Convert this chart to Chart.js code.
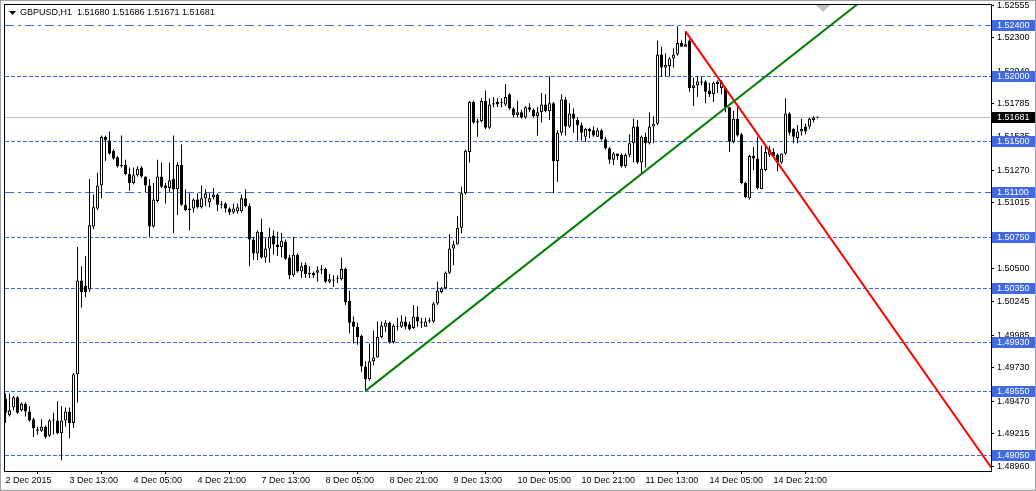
<!DOCTYPE html>
<html>
<head>
<meta charset="utf-8">
<title>GBPUSD,H1</title>
<script src="https://cdn.jsdelivr.net/npm/chart.js@4.4.0/dist/chart.umd.min.js"></script>
<style>
  html, body { margin: 0; padding: 0; background: #fff; }
  canvas { display: block; }
</style>
</head>
<body>
<canvas id="chart" width="1036" height="491"></canvas>
<script>
// symbol / timeframe shown at the top left
const symbol = "GBPUSD";
const timeframe = "H1";

// H1 candles, one per bar (bar 0 = 2 Dec 2015 21:00)
const opens = [
  1.4949,1.4936,1.4942,1.4950,1.4940,1.4945,1.4939,1.4933,1.4925,1.4924,
  1.4927,1.4920,1.4932,1.4932,1.4922,1.4932,1.4939,1.4930,1.4968,1.5041,
  1.5037,1.5034,1.5083,1.5097,1.5115,1.5153,1.5150,1.5142,1.5137,1.5130,
  1.5131,1.5124,1.5117,1.5123,1.5129,1.5122,1.5115,1.5083,1.5103,1.5122,
  1.5115,1.5113,1.5120,1.5112,1.5131,1.5100,1.5097,1.5097,1.5104,1.5098,
  1.5105,1.5102,1.5106,1.5108,1.5100,1.5101,1.5097,1.5094,1.5095,1.5095,
  1.5105,1.5099,1.5073,1.5062,1.5079,1.5059,1.5066,1.5076,1.5069,1.5067,
  1.5071,1.5059,1.5045,1.5061,1.5048,1.5053,1.5046,1.5047,1.5047,1.5049,
  1.5050,1.5040,1.5041,1.5042,1.5042,1.5050,1.5025,1.5009,1.5005,1.4998,
  1.4974,1.4964,1.4978,1.4981,1.4997,1.5005,1.5008,1.4993,1.5005,1.5005,
  1.5009,1.5007,1.5004,1.5013,1.5008,1.5005,1.5009,1.5009,1.5023,1.5032,
  1.5035,1.5047,1.5066,1.5069,1.5082,1.5109,1.5141,1.5180,1.5165,1.5165,
  1.5181,1.5160,1.5178,1.5180,1.5179,1.5178,1.5186,1.5175,1.5170,1.5172,
  1.5168,1.5176,1.5174,1.5169,1.5172,1.5178,1.5173,1.5179,1.5134,1.5156,
  1.5182,1.5161,1.5171,1.5166,1.5162,1.5153,1.5159,1.5158,1.5153,1.5158,
  1.5151,1.5144,1.5135,1.5140,1.5139,1.5130,1.5139,1.5148,1.5161,1.5133,
  1.5153,1.5148,1.5161,1.5163,1.5217,1.5207,1.5208,1.5214,1.5217,1.5226,
  1.5223,1.5228,1.5191,1.5193,1.5195,1.5196,1.5189,1.5186,1.5196,1.5191,
  1.5191,1.5176,1.5149,1.5167,1.5155,1.5117,1.5105,1.5138,1.5136,1.5112,
  1.5127,1.5139,1.5141,1.5139,1.5133,1.5140,1.5171,1.5159,1.5152,1.5157,
  1.5161,1.5161,1.5166,1.51680
];
const highs = [
  1.4953,1.4953,1.4951,1.4951,1.4946,1.4946,1.4943,1.4934,1.4927,1.4933,
  1.4928,1.4933,1.4938,1.4947,1.4943,1.4942,1.4942,1.4969,1.5067,1.5052,
  1.5060,1.5120,1.5108,1.5125,1.5154,1.5154,1.5157,1.5143,1.5138,1.5154,
  1.5135,1.5129,1.5129,1.5130,1.5130,1.5122,1.5120,1.5117,1.5135,1.5133,
  1.5117,1.5133,1.5154,1.5133,1.5147,1.5112,1.5109,1.5105,1.5109,1.5115,
  1.5112,1.5109,1.5113,1.5109,1.5103,1.5102,1.5098,1.5101,1.5101,1.5108,
  1.5112,1.5101,1.5075,1.5080,1.5089,1.5074,1.5082,1.5080,1.5079,1.5078,
  1.5073,1.5061,1.5075,1.5062,1.5055,1.5055,1.5052,1.5048,1.5052,1.5053,
  1.5051,1.5046,1.5045,1.5045,1.5059,1.5051,1.5033,1.5013,1.5008,1.4999,
  1.4978,1.4992,1.5002,1.5009,1.5009,1.5010,1.5009,1.5007,1.5012,1.5014,
  1.5013,1.5009,1.5022,1.5021,1.5012,1.5012,1.5012,1.5024,1.5040,1.5036,
  1.5048,1.5077,1.5072,1.5091,1.5114,1.5143,1.5181,1.5181,1.5167,1.5183,
  1.5189,1.5183,1.5184,1.5183,1.5183,1.5194,1.5187,1.5176,1.5181,1.5174,
  1.5177,1.5179,1.5175,1.5176,1.5187,1.5186,1.5200,1.5180,1.5158,1.5186,
  1.5184,1.5179,1.5175,1.5168,1.5164,1.5160,1.5160,1.5161,1.5160,1.5159,
  1.5153,1.5145,1.5141,1.5140,1.5140,1.5140,1.5155,1.5167,1.5166,1.5154,
  1.5156,1.5172,1.5169,1.5228,1.5223,1.5218,1.5215,1.5222,1.5239,1.5228,
  1.5235,1.5229,1.5199,1.5200,1.5200,1.5197,1.5195,1.5196,1.5197,1.5197,
  1.5192,1.5176,1.5173,1.5176,1.5156,1.5118,1.5139,1.5145,1.5153,1.5146,
  1.5147,1.5146,1.5144,1.5140,1.5140,1.5183,1.5172,1.5160,1.5162,1.5167,
  1.5163,1.5168,1.5169,1.51686
];
const lows = [
  1.4930,1.4935,1.4940,1.4937,1.4939,1.4935,1.4931,1.4919,1.4921,1.4923,
  1.4918,1.4919,1.4921,1.4921,1.4901,1.4927,1.4918,1.4926,1.4946,1.5020,
  1.5028,1.5032,1.5081,1.5096,1.5105,1.5134,1.5139,1.5135,1.5129,1.5129,
  1.5123,1.5111,1.5116,1.5122,1.5121,1.5110,1.5075,1.5082,1.5102,1.5113,
  1.5101,1.5110,1.5078,1.5092,1.5099,1.5095,1.5080,1.5094,1.5097,1.5097,
  1.5099,1.5098,1.5104,1.5095,1.5097,1.5094,1.5092,1.5093,1.5093,1.5094,
  1.5098,1.5052,1.5057,1.5057,1.5058,1.5055,1.5055,1.5061,1.5060,1.5059,
  1.5057,1.5042,1.5044,1.5047,1.5043,1.5043,1.5043,1.5043,1.5040,1.5046,
  1.5039,1.5039,1.5036,1.5039,1.5041,1.5022,1.5000,1.4992,1.4991,1.4970,
  1.4955,1.4963,1.4975,1.4981,1.4996,1.5001,1.4992,1.4992,1.5002,1.5004,
  1.5003,1.5002,1.5003,1.5005,1.5004,1.5005,1.5008,1.5008,1.5022,1.5031,
  1.5034,1.5046,1.5053,1.5069,1.5078,1.5108,1.5133,1.5163,1.5153,1.5164,
  1.5159,1.5159,1.5176,1.5176,1.5176,1.5177,1.5174,1.5168,1.5168,1.5167,
  1.5167,1.5172,1.5168,1.5154,1.5164,1.5172,1.5166,1.5109,1.5118,1.5154,
  1.5154,1.5160,1.5156,1.5150,1.5150,1.5149,1.5152,1.5153,1.5153,1.5150,
  1.5143,1.5132,1.5131,1.5135,1.5129,1.5129,1.5137,1.5133,1.5132,1.5124,
  1.5129,1.5147,1.5148,1.5162,1.5200,1.5200,1.5200,1.5207,1.5216,1.5223,
  1.5223,1.5188,1.5177,1.5184,1.5193,1.5179,1.5184,1.5180,1.5187,1.5186,
  1.5172,1.5141,1.5148,1.5153,1.5116,1.5105,1.5104,1.5127,1.5112,1.5112,
  1.5126,1.5137,1.5137,1.5126,1.5132,1.5139,1.5154,1.5148,1.5148,1.5154,
  1.5155,1.5159,1.5164,1.51671
];
const closes = [
  1.4938,1.4940,1.4950,1.4938,1.4945,1.4939,1.4932,1.4926,1.4924,1.4927,
  1.4919,1.4932,1.4932,1.4922,1.4932,1.4939,1.4930,1.4968,1.5041,1.5032,
  1.5032,1.5084,1.5098,1.5115,1.5153,1.5150,1.5140,1.5136,1.5130,1.5131,
  1.5124,1.5117,1.5123,1.5128,1.5122,1.5115,1.5083,1.5104,1.5122,1.5114,
  1.5113,1.5119,1.5112,1.5131,1.5100,1.5096,1.5096,1.5104,1.5098,1.5105,
  1.5109,1.5105,1.5108,1.5100,1.5100,1.5097,1.5094,1.5097,1.5098,1.5105,
  1.5099,1.5073,1.5062,1.5079,1.5059,1.5066,1.5075,1.5069,1.5067,1.5072,
  1.5058,1.5045,1.5061,1.5048,1.5052,1.5046,1.5046,1.5045,1.5049,1.5049,
  1.5040,1.5042,1.5041,1.5042,1.5050,1.5024,1.5008,1.5005,1.4997,1.4974,
  1.4964,1.4978,1.4981,1.4997,1.5006,1.5008,1.4993,1.5006,1.5005,1.5009,
  1.5005,1.5003,1.5013,1.5009,1.5009,1.5009,1.5010,1.5023,1.5033,1.5035,
  1.5047,1.5066,1.5069,1.5082,1.5109,1.5142,1.5180,1.5164,1.5164,1.5181,
  1.5160,1.5178,1.5179,1.5178,1.5179,1.5184,1.5175,1.5170,1.5172,1.5168,
  1.5176,1.5174,1.5169,1.5172,1.5178,1.5173,1.5179,1.5134,1.5156,1.5182,
  1.5161,1.5171,1.5167,1.5162,1.5156,1.5159,1.5157,1.5154,1.5158,1.5151,
  1.5144,1.5135,1.5140,1.5138,1.5130,1.5139,1.5148,1.5161,1.5133,1.5153,
  1.5148,1.5161,1.5163,1.5217,1.5207,1.5209,1.5214,1.5217,1.5226,1.5223,
  1.5225,1.5191,1.5193,1.5196,1.5196,1.5188,1.5186,1.5195,1.5194,1.5196,
  1.5176,1.5149,1.5167,1.5154,1.5117,1.5106,1.5138,1.5136,1.5113,1.5128,
  1.5141,1.5143,1.5138,1.5133,1.5140,1.5171,1.5156,1.5153,1.5157,1.5159,
  1.5157,1.5167,1.5168,1.51681
];

// time axis: a label every 16 bars
const timeTickBars = [0, 16, 32, 48, 64, 80, 96, 112, 128, 144, 160, 176, 192];
const timeLabels = ["2 Dec 2015", "3 Dec 13:00", "4 Dec 05:00", "4 Dec 21:00", "7 Dec 13:00",
  "8 Dec 05:00", "8 Dec 21:00", "9 Dec 13:00", "10 Dec 05:00", "10 Dec 21:00",
  "11 Dec 13:00", "14 Dec 05:00", "14 Dec 21:00"];

// price scale labels
const priceTicks = [1.52555, 1.52300, 1.52040, 1.51785, 1.51535, 1.51270, 1.51015, 1.50755,
  1.50500, 1.50245, 1.49985, 1.49730, 1.49470, 1.49215, 1.48960];

// horizontal lines drawn on the chart
const levelPrices = [1.52400, 1.52000, 1.51500, 1.51100, 1.50750, 1.50350, 1.49930, 1.49550, 1.49050];
const levelStyles = ["dashdot", "dot", "dot", "dashdot", "dot", "dot", "dot", "dot", "dot"];

// trend lines (two anchors each, extended to the right as rays)
const upTrendBars = [90, 159];
const upTrendPrices = [1.4955, 1.5124];
const downTrendBars = [170, 188];
const downTrendPrices = [1.5235, 1.5155];

const BLUE = "#4169e1";
const FONT = "'Liberation Sans', Arial, sans-serif";
const xMin = -0.125, xMax = 246.375;
const yMin = 1.48926, yMax = 1.52556;

function ray(bars, prices) {
  const slope = (prices[1] - prices[0]) / (bars[1] - bars[0]);
  return [
    { x: bars[0], y: prices[0] },
    { x: xMax, y: prices[0] + slope * (xMax - bars[0]) },
  ];
}

// garis level + garis harga bid (di bawah candle)
const levelsPlugin = {
  id: "levels",
  beforeDatasetsDraw(chart) {
    const { ctx, chartArea: a, scales } = chart;
    ctx.save();
    ctx.beginPath();
    ctx.rect(a.left, a.top, a.right - a.left, a.bottom - a.top);
    ctx.clip();
    ctx.lineWidth = 1;

    // bid line
    const by = Math.round(scales.y.getPixelForValue(closes[closes.length - 1])) + 0.5;
    ctx.strokeStyle = "#c0c0c0";
    ctx.setLineDash([]);
    ctx.beginPath();
    ctx.moveTo(a.left, by);
    ctx.lineTo(a.right, by);
    ctx.stroke();

    ctx.strokeStyle = BLUE;
    levelPrices.forEach((p, i) => {
      const y = Math.round(scales.y.getPixelForValue(p)) + 0.5;
      ctx.setLineDash(levelStyles[i] === "dashdot" ? [9, 4, 3, 4] : [4, 2]);
      ctx.beginPath();
      ctx.moveTo(a.left, y);
      ctx.lineTo(a.right, y);
      ctx.stroke();
    });
    ctx.restore();
  },
  afterDraw(chart) {
    const { ctx, chartArea: a, scales } = chart;
    const W = chart.width, H = chart.height;
    ctx.save();

    // frame
    ctx.strokeStyle = "#000";
    ctx.lineWidth = 1;
    ctx.setLineDash([]);
    ctx.strokeRect(a.left - 0.5, a.top - 0.5, a.right - a.left + 1, a.bottom - a.top + 1);

    // outer window border
    ctx.strokeStyle = "#a0a0a0";
    ctx.strokeRect(0.5, 0.5, W - 1, H - 1);
    ctx.fillStyle = "#f0f0f0";
    ctx.fillRect(1, H - 3, W - 2, 2);

    // label level di skala harga
    ctx.font = "9px " + FONT;
    ctx.textBaseline = "middle";
    ctx.textAlign = "left";
    levelPrices.forEach((p) => {
      const y = Math.round(scales.y.getPixelForValue(p));
      ctx.fillStyle = BLUE;
      ctx.fillRect(a.right + 1, y - 5, 43, 11);
      ctx.fillStyle = "#fff";
      ctx.fillText(p.toFixed(5), a.right + 6, y + 0.5);
    });

    // current price label
    const last = closes[closes.length - 1];
    const cy = Math.round(scales.y.getPixelForValue(last));
    ctx.fillStyle = "#000";
    ctx.fillRect(a.right + 1, cy - 5, 43, 11);
    ctx.fillStyle = "#fff";
    ctx.fillText(last.toFixed(5), a.right + 6, cy + 0.5);

    // chart shift marker
    ctx.fillStyle = "#c0c0c0";
    ctx.beginPath();
    ctx.moveTo(816, a.top);
    ctx.lineTo(830, a.top);
    ctx.lineTo(823, a.top + 7);
    ctx.closePath();
    ctx.fill();

    // judul kiri atas
    const n = closes.length - 1;
    ctx.fillStyle = "#000";
    ctx.beginPath();
    ctx.moveTo(9, 11);
    ctx.lineTo(16, 11);
    ctx.lineTo(12.5, 15);
    ctx.closePath();
    ctx.fill();
    const title = symbol + "," + timeframe + "  " +
      [opens[n], highs[n], lows[n], closes[n]].map((v) => v.toFixed(5)).join(" ");
    ctx.fillText(title, 20, 13);
    ctx.restore();
  },
  beforeDraw(chart) {
    const { ctx } = chart;
    ctx.save();
    ctx.fillStyle = "#fff";
    ctx.fillRect(0, 0, chart.width, chart.height);
    ctx.restore();
  },
};

const bodyData = opens.map((o, i) => ({ x: i, y: [o, closes[i]] }));
const wickData = lows.map((l, i) => ({ x: i, y: [l, highs[i]] }));

new Chart(document.getElementById("chart"), {
  type: "bar",
  data: {
    datasets: [
      {
        type: "line",
        data: ray(upTrendBars, upTrendPrices),
        borderColor: "#008000",
        borderWidth: 2,
        pointRadius: 0,
        fill: false,
        order: 0,
      },
      {
        type: "line",
        data: ray(downTrendBars, downTrendPrices),
        borderColor: "#ff0000",
        borderWidth: 2,
        pointRadius: 0,
        fill: false,
        order: 0,
      },
      {
        data: bodyData,
        backgroundColor: opens.map((o, i) => (closes[i] > o ? "#ffffff" : "#000000")),
        borderColor: "#000",
        borderWidth: 1,
        borderSkipped: false,
        barThickness: 3,
        minBarLength: 1,
        inflateAmount: 0,
        grouped: false,
        order: 1,
      },
      {
        data: wickData,
        backgroundColor: "#000",
        borderWidth: 0,
        barThickness: 1,
        inflateAmount: 0,
        grouped: false,
        order: 2,
      },
    ],
  },
  options: {
    responsive: false,
    devicePixelRatio: 1,
    animation: false,
    events: [],
    layout: { padding: { left: 5, top: 5, right: 0, bottom: 0 } },
    plugins: { legend: { display: false }, tooltip: { enabled: false } },
    scales: {
      x: {
        type: "linear",
        offset: false,
        min: xMin,
        max: xMax,
        afterBuildTicks: (s) => {
          s.ticks = timeTickBars.map((v) => ({ value: v }));
        },
        afterFit: (s) => {
          s.height = 20;
          s.paddingLeft = 0;
          s.paddingRight = 0;
        },
        grid: { drawOnChartArea: false, tickLength: 3, color: "#000" },
        border: { display: false },
        ticks: {
          align: "start",
          maxRotation: 0,
          minRotation: 0,
          autoSkip: false,
          padding: 1,
          color: "#000",
          font: { family: FONT, size: 9 },
          callback: (v) => timeLabels[timeTickBars.indexOf(v)],
        },
      },
      y: {
        position: "right",
        min: yMin,
        max: yMax,
        afterBuildTicks: (s) => {
          s.ticks = priceTicks.map((v) => ({ value: v }));
        },
        afterFit: (s) => {
          s.width = 45;
          s.paddingTop = 0;
          s.paddingBottom = 0;
        },
        grid: { drawOnChartArea: false, tickLength: 3, color: "#000" },
        border: { display: false },
        ticks: {
          autoSkip: false,
          padding: 3,
          color: "#000",
          font: { family: FONT, size: 9 },
          callback: (v) => v.toFixed(5),
        },
      },
    },
  },
  plugins: [levelsPlugin],
});
</script>
</body>
</html>
